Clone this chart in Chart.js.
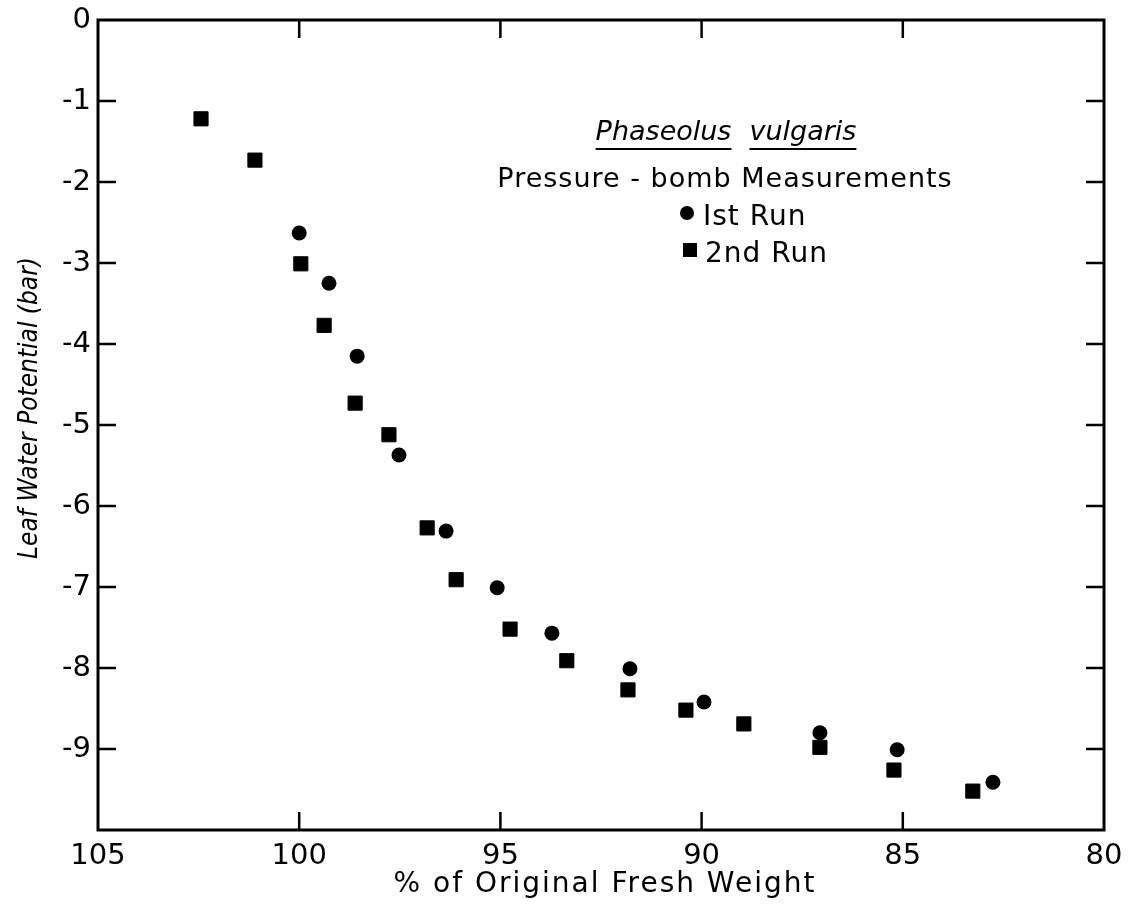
<!DOCTYPE html>
<html lang="en">
<head>
  <meta charset="UTF-8" />
  <script src="https://cdn.jsdelivr.net/npm/chart.js"></script>
  <title>Leaf Water Potential</title>
  <style>
    html, body { margin: 0; padding: 0; background: #fff; }
    canvas { display: block; }
  </style>
</head>
<body>
  <canvas id="chart" width="1133" height="910"></canvas>

  <script>
    // % of original fresh weight vs leaf water potential (bar)
    const run1Weight = [100.0, 99.26, 98.56, 97.52, 96.35, 95.08, 93.72, 91.78, 89.94, 87.06, 85.14, 82.76];
    const run1Potential = [-2.63, -3.25, -4.15, -5.37, -6.31, -7.01, -7.57, -8.01, -8.42, -8.80, -9.01, -9.41];

    const run2Weight = [102.44, 101.10, 99.96, 99.38, 98.61, 97.77, 96.82, 96.10, 94.76, 93.35, 91.83, 90.39, 88.95, 87.06, 85.22, 83.26];
    const run2Potential = [-1.22, -1.73, -3.01, -3.77, -4.73, -5.12, -6.27, -6.91, -7.52, -7.91, -8.27, -8.52, -8.69, -8.98, -9.26, -9.52];

    const xTicks = [105, 100, 95, 90, 85, 80];
    const yTicks = [0, -1, -2, -3, -4, -5, -6, -7, -8, -9];

    const FONT = '"DejaVu Sans", sans-serif';
    const FONT_NARROW = '"DejaVu Sans Condensed", "DejaVu Sans", sans-serif';

    function toPoints(xs, ys) {
      return xs.map((x, i) => ({ x: x, y: ys[i] }));
    }

    // frame with inward ticks, axis titles, in-plot legend
    const framePlugin = {
      id: 'frame',
      afterDraw(chart) {
        const ctx = chart.ctx;
        const a = chart.chartArea;
        const xs = chart.scales.x;
        const ys = chart.scales.y;
        const tick = 18;

        ctx.save();
        ctx.strokeStyle = '#000';
        ctx.lineWidth = 3;
        ctx.strokeRect(a.left, a.top, a.right - a.left, a.bottom - a.top);

        ctx.lineWidth = 2.5;
        ctx.beginPath();
        xTicks.slice(1, -1).forEach(v => {
          const px = xs.getPixelForValue(v);
          ctx.moveTo(px, a.top); ctx.lineTo(px, a.top + tick);
          ctx.moveTo(px, a.bottom); ctx.lineTo(px, a.bottom - tick);
        });
        yTicks.slice(1).forEach(v => {
          const py = ys.getPixelForValue(v);
          ctx.moveTo(a.left, py); ctx.lineTo(a.left + tick, py);
          ctx.moveTo(a.right, py); ctx.lineTo(a.right - tick, py);
        });
        ctx.stroke();

        ctx.fillStyle = '#000';
        ctx.textBaseline = 'middle';
        ctx.textAlign = 'center';

        // x title
        ctx.font = '28px ' + FONT;
        ctx.letterSpacing = '2px';
        ctx.fillText('% of Original Fresh Weight', 605, 885);

        // y title
        ctx.save();
        ctx.translate(30, 408);
        ctx.rotate(-Math.PI / 2);
        ctx.font = 'italic 26px ' + FONT_NARROW;
        ctx.letterSpacing = '0px';
        ctx.fillText('Leaf Water Potential (bar)', 0, 0);
        ctx.restore();

        // legend block
        ctx.textBaseline = 'alphabetic';
        ctx.textAlign = 'left';
        ctx.font = 'italic 27px ' + FONT;
        ctx.letterSpacing = '0px';
        const w1 = ctx.measureText('Phaseolus').width;
        const w2 = ctx.measureText('vulgaris').width;
        const gap = 18;
        const lx = 726 - (w1 + gap + w2) / 2;
        ctx.fillText('Phaseolus', lx, 140);
        ctx.fillText('vulgaris', lx + w1 + gap, 140);
        ctx.lineWidth = 2;
        ctx.beginPath();
        ctx.moveTo(lx, 149); ctx.lineTo(lx + w1, 149);
        ctx.moveTo(lx + w1 + gap, 149); ctx.lineTo(lx + w1 + gap + w2, 149);
        ctx.stroke();

        ctx.font = '27px ' + FONT;
        ctx.letterSpacing = '1px';
        ctx.textAlign = 'center';
        ctx.fillText('Pressure - bomb Measurements', 725, 187);

        ctx.textAlign = 'left';
        ctx.font = '28px ' + FONT;
        ctx.beginPath();
        ctx.arc(687, 213, 7, 0, Math.PI * 2);
        ctx.fill();
        ctx.fillText('Ist Run', 703, 225);
        ctx.fillRect(683, 243, 14, 14);
        ctx.fillText('2nd Run', 705, 262);
        ctx.restore();
      }
    };

    new Chart(document.getElementById('chart'), {
      type: 'scatter',
      data: {
        datasets: [
          {
            label: '1st Run',
            data: toPoints(run1Weight, run1Potential),
            pointStyle: 'circle',
            pointRadius: 7.5,
            backgroundColor: '#000',
            borderColor: '#000',
            borderWidth: 0
          },
          {
            label: '2nd Run',
            data: toPoints(run2Weight, run2Potential),
            pointStyle: 'rect',
            pointRadius: 10,
            backgroundColor: '#000',
            borderColor: '#000',
            borderWidth: 1
          }
        ]
      },
      options: {
        responsive: false,
        animation: false,
        layout: { padding: { left: 0, right: 29, top: 20, bottom: 0 } },
        plugins: {
          legend: { display: false },
          tooltip: { enabled: false }
        },
        scales: {
          x: {
            type: 'linear',
            reverse: true,
            min: 80,
            max: 105,
            afterFit(scale) { scale.height = 80; scale.paddingLeft = 0; scale.paddingRight = 0; },
            afterBuildTicks(scale) { scale.ticks = xTicks.map(v => ({ value: v })); },
            grid: { display: false, drawTicks: false },
            border: { display: false },
            ticks: {
              color: '#000',
              padding: 9,
              maxRotation: 0,
              font: { family: FONT, size: 29 }
            }
          },
          y: {
            type: 'linear',
            min: -10,
            max: 0,
            afterFit(scale) { scale.width = 98; scale.paddingTop = 0; scale.paddingBottom = 0; },
            afterBuildTicks(scale) { scale.ticks = yTicks.map(v => ({ value: v })); },
            grid: { display: false, drawTicks: false },
            border: { display: false },
            ticks: {
              color: '#000',
              padding: 7,
              font: { family: FONT, size: 29 }
            }
          }
        }
      },
      plugins: [framePlugin]
    });
  </script>
</body>
</html>
